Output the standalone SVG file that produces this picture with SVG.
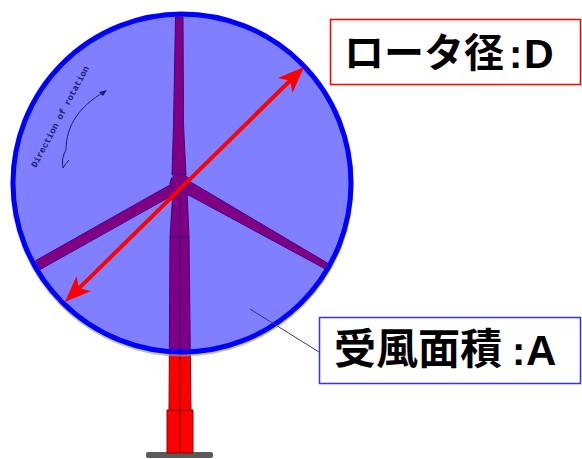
<svg xmlns="http://www.w3.org/2000/svg" width="582" height="459" viewBox="0 0 582 459">
  <style>
    .steel { fill: #ff0000; stroke: #8a0010; stroke-width: 1; stroke-linejoin: round; }
    .rotor { fill: #0000ff; fill-opacity: 0.5; stroke: #0000ff; stroke-width: 5; }
    .label-jp { font-family: "Noto Sans CJK JP", "Noto Sans CJK SC", sans-serif; font-weight: bold; fill: #000; }
    .label-en { font-family: "Liberation Sans", Arial, sans-serif; font-weight: bold; fill: #000; }
    .note { font-family: "Liberation Mono", monospace; font-size: 9px; font-weight: bold; fill: #1c1c66; }
  </style>
  <defs>
    <marker id="barb" markerUnits="userSpaceOnUse" markerWidth="30" markerHeight="30" viewBox="-12 -12 26 24" refX="0" refY="0" orient="auto-start-reverse">
      <path d="M13,0 L-10,-9 L-4,0 L-10,9 Z" fill="#ff0000"/>
    </marker>
  </defs>

  <rect width="582" height="459" fill="#ffffff"/>

  <!-- wind turbine: tower, blades, hub -->
  <g id="turbine">
    <rect x="146" y="452" width="67" height="6" rx="2" fill="#5a5a5a"/>
    <polygon class="steel" points="167,410 193,410 193,453 167,453"/>
    <polygon class="steel" points="170,237 189,237 191,410 169,410"/>
    <polygon class="steel" points="173,190 187,190 189,237 170,237"/>
    <line x1="180" y1="195" x2="180" y2="452" stroke="#8a0010" stroke-width="1.2"/>
    <polygon class="steel" points="175.5,17 183,17 183.5,125 186,175 172,175 173.5,125"/>
    <polygon class="steel" points="182,191.5 188,180.5 330.5,264.9 327.5,270.1"/>
    <polygon class="steel" points="177.5,192.5 172.5,183.5 35.8,260.6 40.2,269.4"/>
    <ellipse class="steel" cx="180" cy="183" rx="10" ry="9"/>
  </g>

  <!-- swept area of the rotor -->
  <g id="rotor-area">
    <circle cx="182" cy="185" r="170" fill="none" stroke="#9a9a9a" stroke-width="3" opacity="0.6"/>
    <circle class="rotor" cx="182" cy="183" r="169"/>
    <g id="rotation-note">
      <text class="note" x="0" y="0" transform="translate(36,168) rotate(-62)">Direction of rotation</text>
      <path d="M66,150 C66,125 80,106 104,92" fill="none" stroke="#1c1c66" stroke-width="1"/>
      <path d="M107,90 L99,92 L103,96 Z" fill="#1c1c66"/>
      <path d="M66,150 Q61,158 63,168 Q66,163 69,160" fill="none" stroke="#1c1c66" stroke-width="1"/>
    </g>
  </g>

  <!-- connectors: diameter arrow and area leader -->
  <g id="connectors">
    <line x1="75.6" y1="291.6" x2="293.4" y2="77.4" stroke="#ff0000" stroke-width="4" marker-start="url(#barb)" marker-end="url(#barb)"/>
    <line x1="250" y1="309" x2="319" y2="352" stroke="#34347a" stroke-width="1"/>
  </g>

  <g id="label-diameter">
    <rect x="330.5" y="19.5" width="250" height="65" fill="#ffffff" stroke="#ff0000" stroke-width="1.5"/>
    <text class="label-jp" x="344" y="67" font-size="40">ロータ径</text>
    <text class="label-en" x="509" y="68" font-size="40">:</text>
    <text class="label-en" x="524" y="68" font-size="41">D</text>
  </g>

  <g id="label-area">
    <rect x="319.5" y="317.5" width="261" height="66" fill="#ffffff" stroke="#3333ff" stroke-width="1.5"/>
    <text class="label-jp" x="334" y="364" font-size="42">受風面積</text>
    <text class="label-en" x="512" y="365" font-size="40">:</text>
    <text class="label-en" x="526" y="365" font-size="42">A</text>
  </g>
</svg>
